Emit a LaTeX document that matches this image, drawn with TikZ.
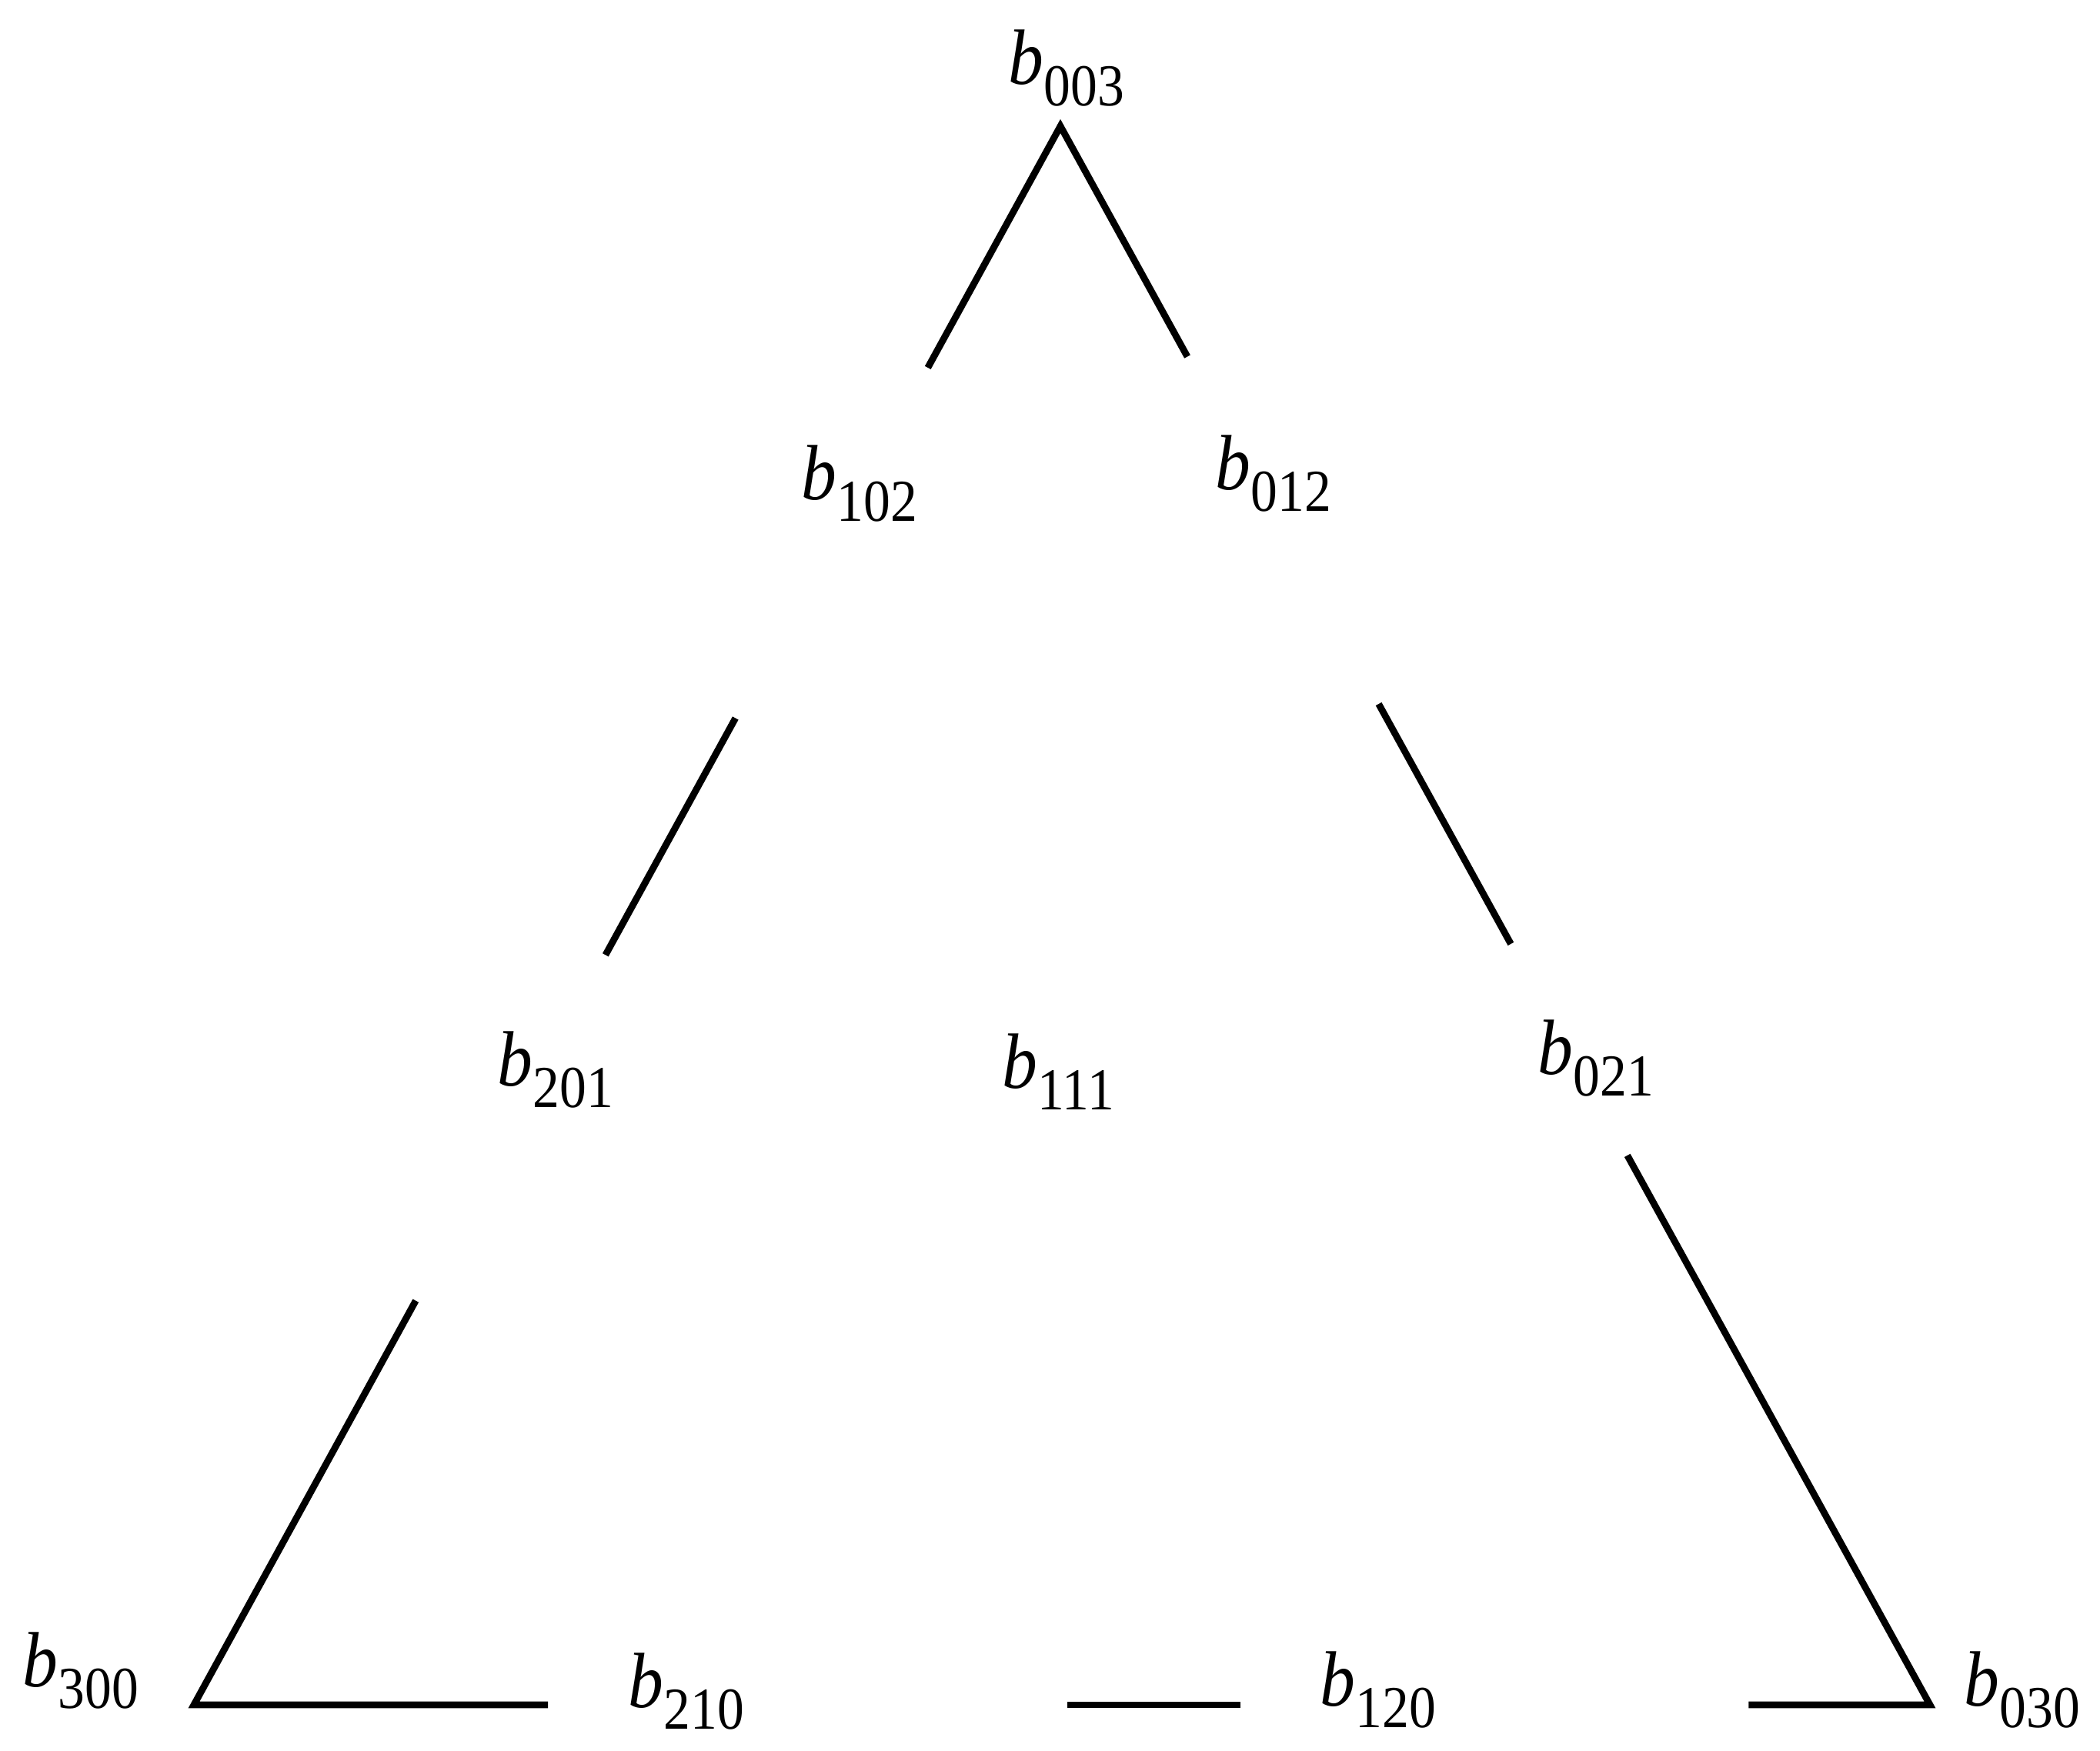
\documentclass[tikz,border=0pt]{standalone}
\usepackage{fontspec}
\usepackage{graphicx}
\setmainfont{Liberation Serif}
\usetikzlibrary{calc}

\newcommand{\bcoef}[1]{\scalebox{0.9}[1]{\textit{b}\raisebox{-0.27em}{\fontsize{22}{26}\selectfont #1}}}

\begin{document}
\begin{tikzpicture}

\tikzset{
  ctrl/.style={anchor=base west, inner sep=0pt, font=\fontsize{29}{34}\selectfont},
  net/.style={line width=2.5pt, black}
}

\useasboundingbox (0,0) rectangle (27.29,22.76);

% Corner points
\coordinate (v003) at (13.78, 21.12);
\coordinate (v300) at (2.52, 0.60);
\coordinate (v030) at (25.08, 0.60);

% Control point labels
\node (b003) at (13.10, 21.66) [ctrl] {\bcoef{003}};
\node (b102) at (10.41, 16.26) [ctrl] {\bcoef{102}};
\node (b012) at (15.79, 16.39) [ctrl] {\bcoef{012}};
\node (b201) at (6.46, 8.64) [ctrl] {\bcoef{201}};
\node (b111) at (13.02, 8.61) [ctrl] {\bcoef{111}};
\node (b021) at (19.98, 8.79) [ctrl] {\bcoef{021}};
\node (b300) at (0.29, 0.83) [ctrl] {\bcoef{300}};
\node (b210) at (8.16, 0.56) [ctrl] {\bcoef{210}};
\node (b120) at (17.15, 0.58) [ctrl] {\bcoef{120}};
\node (b030) at (25.52, 0.58) [ctrl] {\bcoef{030}};

% Ends of the visible pieces
\coordinate (left1) at ($(v003)!0.153!(v300)$);
\coordinate (left2) at ($(v003)!0.375!(v300)$);
\coordinate (left3) at ($(v003)!0.525!(v300)$);
\coordinate (left4) at ($(v003)!0.744!(v300)$);
\coordinate (right1) at ($(v003)!0.146!(v030)$);
\coordinate (right2) at ($(v003)!0.366!(v030)$);
\coordinate (right3) at ($(v003)!0.518!(v030)$);
\coordinate (right4) at ($(v003)!0.652!(v030)$);
\coordinate (bottom1) at ($(v300)!0.204!(v030)$);
\coordinate (bottom2) at ($(v300)!0.503!(v030)$);
\coordinate (bottom3) at ($(v300)!0.603!(v030)$);
\coordinate (bottom4) at ($(v300)!0.8955!(v030)$);

% Control net
\draw [net] (left1) -- (v003) -- (right1);
\draw [net] (left2) -- (left3);
\draw [net] (right2) -- (right3);
\draw [net] (left4) -- (v300) -- (bottom1);
\draw [net] (bottom2) -- (bottom3);
\draw [net] (bottom4) -- (v030) -- (right4);

\end{tikzpicture}
\end{document}
